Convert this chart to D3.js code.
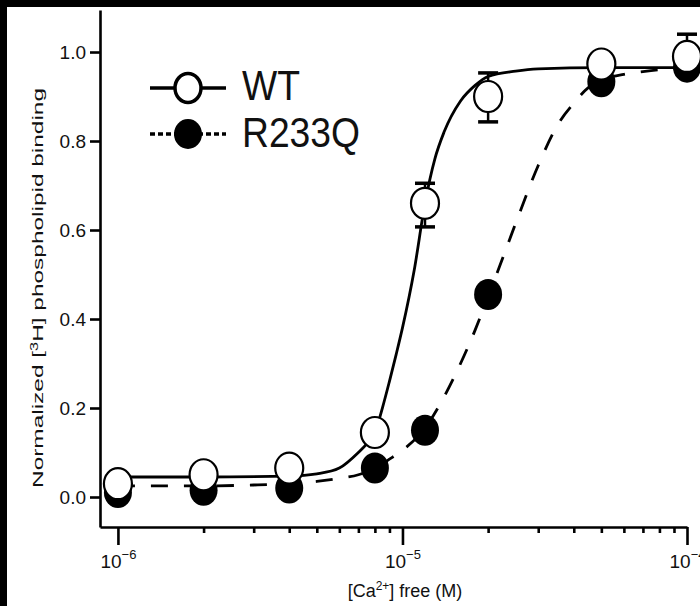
<!DOCTYPE html>
<html>
<head>
<meta charset="utf-8">
<script src="https://d3js.org/d3.v7.min.js"></script>
<style>
  html, body { margin: 0; padding: 0; background: #000; }
  svg { display: block; }
  text { font-family: "Liberation Sans", Arial, Helvetica, sans-serif; fill: #111; }
  .axis path, .axis line { stroke: #000; stroke-width: 2.6; }
</style>
</head>
<body>
<script>
// measured points (free Ca2+ in M, normalized binding)
var wtConc    = [1e-6, 2e-6, 4e-6, 8e-6, 1.2e-5, 2e-5, 5e-5, 1e-4];
var wtVal     = [0.03, 0.05, 0.065, 0.145, 0.66, 0.90, 0.973, 0.99];
var wtErrLo   = [null, null, null, null, 0.607, 0.843, null, null];
var wtErrHi   = [null, null, null, null, 0.705, 0.953, null, 1.04];

var mutConc   = [1e-6, 2e-6, 4e-6, 8e-6, 1.2e-5, 2e-5, 5e-5, 1e-4];
var mutVal    = [0.01, 0.015, 0.02, 0.065, 0.15, 0.455, 0.933, 0.966];

// fitted curves
var wtFitConc  = [1e-6, 2e-6, 4e-6, 5e-6, 6e-6, 7e-6, 7.5e-6, 8e-6, 8.5e-6, 9e-6, 9.5e-6, 1e-5,
                  1.1e-5, 1.2e-5, 1.3e-5, 1.4e-5, 1.6e-5, 1.8e-5, 2e-5, 2.5e-5, 3e-5, 5e-5, 1e-4, 1.1e-4];
var wtFitVal   = [0.045, 0.045, 0.047, 0.052, 0.065, 0.10, 0.12, 0.145, 0.20, 0.26, 0.32, 0.38,
                  0.51, 0.66, 0.76, 0.82, 0.89, 0.925, 0.945, 0.957, 0.962, 0.965, 0.965, 0.965];
var mutFitConc = [1e-6, 2e-6, 3e-6, 4e-6, 5e-6, 6e-6, 7e-6, 8e-6, 9e-6, 1e-5, 1.2e-5, 1.4e-5,
                  1.6e-5, 1.8e-5, 2e-5, 2.2e-5, 2.5e-5, 3e-5, 3.5e-5, 4e-5, 4.5e-5, 5e-5, 6e-5, 7e-5, 8e-5, 1e-4];
var mutFitVal  = [0.025, 0.025, 0.027, 0.03, 0.035, 0.042, 0.05, 0.065, 0.085, 0.105, 0.155, 0.225,
                  0.30, 0.375, 0.45, 0.52, 0.615, 0.745, 0.835, 0.885, 0.92, 0.937, 0.95, 0.956, 0.96, 0.963];

var yTicks = [0, 0.2, 0.4, 0.6, 0.8, 1.0];
var xMajor = [1e-6, 1e-5, 1e-4];
var xMajorExp = ["\u22126", "\u22125", "\u22124"];
var xMinor = [2e-6, 3e-6, 4e-6, 5e-6, 6e-6, 7e-6, 8e-6, 9e-6,
              2e-5, 3e-5, 4e-5, 5e-5, 6e-5, 7e-5, 8e-5, 9e-5];

var W = 700, H = 606;

var svg = d3.select("body").append("svg")
    .attr("width", W)
    .attr("height", H);

// white paper with black edge at top/left
svg.append("rect").attr("x", 0).attr("y", 0).attr("width", W).attr("height", H).attr("fill", "#000");
svg.append("rect").attr("x", 7).attr("y", 7).attr("width", W - 7).attr("height", H - 7).attr("fill", "#fff");

var x = d3.scaleLog()
    .domain([Math.pow(10, -6.063), 1e-4])
    .range([100, 687]);

var y = d3.scaleLinear()
    .domain([-0.0674, 1.0944])
    .range([527, 10]);

// axes
var yAxis = svg.append("g")
    .attr("class", "axis")
    .attr("transform", "translate(100,0)")
    .call(d3.axisLeft(y).tickValues(yTicks).tickFormat(d3.format(".1f"))
      .tickSize(10).tickSizeOuter(0).tickPadding(4));
yAxis.selectAll("text").style("font-size", "19px").attr("fill", "#111");

svg.append("g")
    .attr("class", "axis")
    .attr("transform", "translate(0,527)")
    .call(d3.axisBottom(x).tickValues(xMinor).tickFormat("").tickSize(6).tickSizeOuter(0))
  .select(".domain").remove();

var xAxis = svg.append("g")
    .attr("class", "axis")
    .attr("transform", "translate(0,527)")
    .call(d3.axisBottom(x).tickValues(xMajor).tickSize(18).tickSizeOuter(0).tickPadding(4));

xAxis.selectAll(".tick text")
    .text(null)
    .attr("y", 41)
    .attr("dy", 0)
    .style("font-size", "19px")
    .each(function(d, i) {
      var t = d3.select(this);
      t.append("tspan").text("10");
      t.append("tspan").attr("dy", -9).style("font-size", "13px").text(xMajorExp[i]);
    });

// axis titles
var xt = svg.append("text")
    .attr("x", 405)
    .attr("y", 597)
    .attr("text-anchor", "middle")
    .style("font-size", "18px");
xt.append("tspan").text("[Ca");
xt.append("tspan").attr("dy", -7).style("font-size", "12px").text("2+");
xt.append("tspan").attr("dy", 7).text("] free (M)");

var yt = svg.append("text")
    .attr("transform", "translate(43,288) rotate(-90)")
    .attr("text-anchor", "middle")
    .attr("textLength", 400)
    .attr("lengthAdjust", "spacingAndGlyphs")
    .style("font-size", "15px");
yt.append("tspan").text("Normalized [");
yt.append("tspan").attr("dy", -5).style("font-size", "10px").text("3");
yt.append("tspan").attr("dy", 5).text("H] phospholipid binding");

// fitted curves
var line = d3.line()
    .x(function(d) { return x(d[0]); })
    .y(function(d) { return y(d[1]); })
    .curve(d3.curveMonotoneX);

svg.append("path")
    .datum(d3.zip(mutFitConc, mutFitVal))
    .attr("d", line)
    .attr("fill", "none")
    .attr("stroke", "#000")
    .attr("stroke-width", 2.8)
    .attr("stroke-dasharray", "17,16");

svg.append("path")
    .datum(d3.zip(wtFitConc, wtFitVal))
    .attr("d", line)
    .attr("fill", "none")
    .attr("stroke", "#000")
    .attr("stroke-width", 2.8);

// R233Q filled symbols
svg.append("g").selectAll("ellipse")
    .data(d3.zip(mutConc, mutVal))
  .enter().append("ellipse")
    .attr("cx", function(d) { return x(d[0]); })
    .attr("cy", function(d) { return y(d[1]); })
    .attr("rx", 14)
    .attr("ry", 15.5)
    .attr("fill", "#000");

// WT error bars
var wtErr = d3.zip(wtConc, wtVal, wtErrLo, wtErrHi);
var eb = svg.append("g").attr("stroke", "#000");
wtErr.forEach(function(d) {
  [d[2], d[3]].forEach(function(e) {
    if (e === null) return;
    eb.append("line")
        .attr("x1", x(d[0])).attr("x2", x(d[0]))
        .attr("y1", y(d[1])).attr("y2", y(e))
        .attr("stroke-width", 2.5);
    eb.append("line")
        .attr("x1", x(d[0]) - 10).attr("x2", x(d[0]) + 10)
        .attr("y1", y(e)).attr("y2", y(e))
        .attr("stroke-width", 3.5);
  });
});

// WT open symbols
svg.append("g").selectAll("ellipse")
    .data(d3.zip(wtConc, wtVal))
  .enter().append("ellipse")
    .attr("cx", function(d) { return x(d[0]); })
    .attr("cy", function(d) { return y(d[1]); })
    .attr("rx", 14)
    .attr("ry", 15.5)
    .attr("fill", "#fff")
    .attr("stroke", "#000")
    .attr("stroke-width", 2.2);

// legend
var lg = svg.append("g");
lg.append("line").attr("x1", 150).attr("x2", 226).attr("y1", 88).attr("y2", 88)
    .attr("stroke", "#000").attr("stroke-width", 3.5);
lg.append("ellipse").attr("cx", 188).attr("cy", 88).attr("rx", 13).attr("ry", 14.5)
    .attr("fill", "#fff").attr("stroke", "#000").attr("stroke-width", 3.5);
lg.append("text").attr("x", 242).attr("y", 100)
    .attr("textLength", 58).attr("lengthAdjust", "spacingAndGlyphs")
    .style("font-size", "43px").text("WT");

lg.append("line").attr("x1", 150).attr("x2", 226).attr("y1", 134).attr("y2", 134)
    .attr("stroke", "#000").attr("stroke-width", 3.5).attr("stroke-dasharray", "5,3");
lg.append("ellipse").attr("cx", 188).attr("cy", 134).attr("rx", 14).attr("ry", 15)
    .attr("fill", "#000");
lg.append("text").attr("x", 242).attr("y", 147)
    .attr("textLength", 118).attr("lengthAdjust", "spacingAndGlyphs")
    .style("font-size", "43px").text("R233Q");
</script>
</body>
</html>
